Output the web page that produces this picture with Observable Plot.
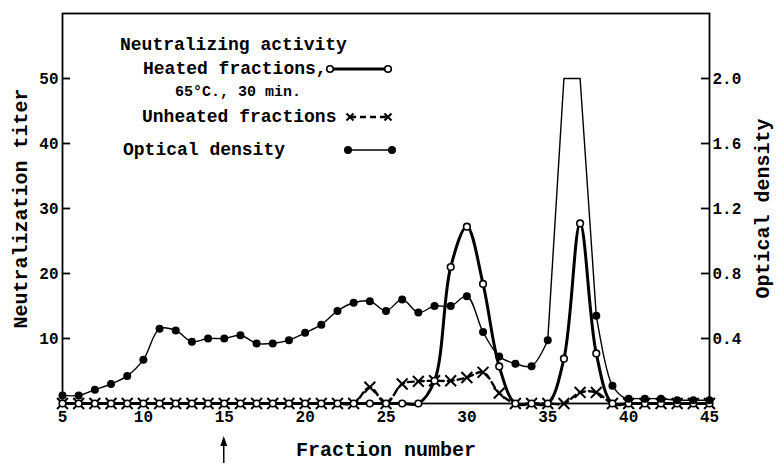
<!DOCTYPE html>
<html><head><meta charset="utf-8">
<script src="https://cdn.jsdelivr.net/npm/d3@7"></script>
<script src="https://cdn.jsdelivr.net/npm/@observablehq/plot@0.6"></script>
<style>body{margin:0;background:#fff;}</style>
</head><body><div id="chart"></div>
<script>
// ---- data ----
const fractions = d3.range(5, 46); // fraction number 5..45
const opticalDensity = [
  0.05, 0.05, 0.085, 0.12, 0.17, 0.27, 0.46, 0.45, 0.38, 0.40,   // 5-14
  0.40, 0.42, 0.37, 0.37, 0.39, 0.435, 0.485, 0.57, 0.62, 0.63,  // 15-24
  0.57, 0.64, 0.56, 0.60, 0.60, 0.66, 0.44, 0.29, 0.245, 0.23,   // 25-34
  0.39, 2.0, 2.0, 0.54, 0.11, 0.03, 0.03, 0.03, 0.02, 0.02, 0.02 // 35-45
];
const heatedTiter = [
  0, 0, 0, 0, 0, 0, 0, 0, 0, 0,          // 5-14
  0, 0, 0, 0, 0, 0, 0, 0, 0, 0,          // 15-24
  0, 0, 0, 3.5, 21.0, 27.2, 18.4, 5.7, 0, 0, // 25-34
  0, 6.9, 27.7, 7.7, 0, 0, 0, 0, 0, 0, 0 // 35-45
];
const unheatedTiter = [
  0, 0, 0, 0, 0, 0, 0, 0, 0, 0,          // 5-14
  0, 0, 0, 0, 0, 0, 0, 0, 0, 2.5,        // 15-24
  0, 3.0, 3.4, 3.5, 3.5, 4.0, 4.8, 1.6, 0, 0, // 25-34
  0, 0, 1.7, 1.7, 0, 0, 0, 0, 0, 0, 0    // 35-45
];
const fractionTicks = [5, 10, 15, 20, 25, 30, 35, 40, 45];
const titerTicks = [10, 20, 30, 40, 50];
const odTicks = [0.4, 0.8, 1.2, 1.6, 2.0];
const odToTiter = 25; // right axis: 2.0 OD sits level with titer 50
const markedFraction = 15; // arrow below the axis
const offScaleRange = [35, 38]; // OD went off scale here: drawn with straight strokes

const od = fractions.map((f, i) => ({f, v: opticalDensity[i] * odToTiter, raw: opticalDensity[i]}));
const heated = fractions.map((f, i) => ({f, v: heatedTiter[i]}));
const unheated = fractions.map((f, i) => ({f, v: unheatedTiter[i]}));
const odTickPos = odTicks.map(d => d * odToTiter);

const FONT = "'Liberation Mono', 'DejaVu Sans Mono', monospace";

const chart = Plot.plot({
  width: 776, height: 464,
  marginTop: 13, marginBottom: 61, marginLeft: 62, marginRight: 67,
  style: {fontFamily: FONT, fontSize: "16px", fontWeight: "bold", background: "#fff", color: "#000"},
  x: {domain: [5, 45]},
  y: {domain: [0, 60]},
  marks: [
    Plot.axisX(fractionTicks, {tickSize: 0, tickPadding: 7, label: null}),
    Plot.axisY(titerTicks, {anchor: "left", tickSize: 0, tickPadding: 4, label: null}),
    Plot.axisY(odTickPos, {anchor: "right", tickSize: 0, tickPadding: 3, label: null,
      tickFormat: d => (d / odToTiter).toFixed(1)}),
    Plot.ruleY(titerTicks, {x1: 5, x2: 5.5, strokeWidth: 1.8}),
    Plot.ruleY(odTickPos, {x1: 44.5, x2: 45, strokeWidth: 1.8}),
    Plot.line(od.filter(d => d.f <= offScaleRange[0]), {x: "f", y: "v", curve: "catmull-rom", strokeWidth: 1.4}),
    Plot.line(od.filter(d => d.f >= offScaleRange[0] && d.f <= offScaleRange[1]), {x: "f", y: "v", curve: "linear", strokeWidth: 1.4}),
    Plot.line(od.filter(d => d.f >= offScaleRange[1]), {x: "f", y: "v", curve: "monotone-x", strokeWidth: 1.4}),
    Plot.line(unheated, {x: "f", y: "v", curve: "catmull-rom", strokeWidth: 2.4, strokeDasharray: "6,4"}),
    Plot.line(heated, {x: "f", y: "v", curve: "catmull-rom", strokeWidth: 3}),
    Plot.frame({strokeWidth: 1.8}),
    Plot.dot(unheated, {x: "f", y: "v", symbol: "times", r: 5, strokeWidth: 2, stroke: "black"}),
    Plot.dot(heated, {x: "f", y: "v", r: 3.3, fill: "white", stroke: "black", strokeWidth: 1.6}),
    Plot.dot(od.filter(d => d.raw < 2), {x: "f", y: "v", r: 4, fill: "black"}),
    Plot.text(["Neutralization titer"], {frameAnchor: "left", textAnchor: "middle", dx: -42, rotate: -90, fontSize: 20}),
    Plot.text(["Optical density"], {frameAnchor: "right", textAnchor: "middle", dx: 53, rotate: -90, fontSize: 20}),
    Plot.text(["Fraction number"], {frameAnchor: "bottom", textAnchor: "middle", dy: 52, fontSize: 20})
  ]
});

document.getElementById("chart").append(chart);

// ---- legend & annotation ----
const svg = d3.select(chart);
const lg = svg.append("g").attr("font-family", FONT).attr("font-weight", "bold").attr("fill", "black").attr("text-anchor", "start");
const legendText = [
  {t: "Neutralizing activity", x: 120, y: 45, s: 18},
  {t: "Heated fractions,", x: 143, y: 69, s: 18},
  {t: "65°C., 30 min.", x: 175, y: 92, s: 15},
  {t: "Unheated fractions", x: 142, y: 117, s: 18},
  {t: "Optical density", x: 123, y: 150, s: 18}
];
legendText.forEach(d => lg.append("text").attr("x", d.x).attr("y", d.y)
  .attr("text-anchor", "start").attr("dominant-baseline", "middle").attr("font-size", d.s).text(d.t));
// heated symbol
lg.append("line").attr("x1", 330).attr("x2", 388).attr("y1", 69).attr("y2", 69).attr("stroke", "black").attr("stroke-width", 3);
[330, 388].forEach(x => lg.append("circle").attr("cx", x).attr("cy", 69).attr("r", 3.3).attr("fill", "white").attr("stroke", "black").attr("stroke-width", 1.6));
// unheated symbol
lg.append("line").attr("x1", 350).attr("x2", 388).attr("y1", 117).attr("y2", 117).attr("stroke", "black").attr("stroke-width", 2.4).attr("stroke-dasharray", "6,4");
[350, 388].forEach(x => lg.append("path").attr("d", `M${x-3.5},${117-3.5}L${x+3.5},${117+3.5}M${x-3.5},${117+3.5}L${x+3.5},${117-3.5}`).attr("stroke", "black").attr("stroke-width", 2));
// optical density symbol
lg.append("line").attr("x1", 348).attr("x2", 392).attr("y1", 150).attr("y2", 150).attr("stroke", "black").attr("stroke-width", 1.4);
[348, 392].forEach(x => lg.append("circle").attr("cx", x).attr("cy", 150).attr("r", 4).attr("fill", "black"));

// arrow under fraction 15
const ax = chart.scale("x").apply(markedFraction);
svg.append("line").attr("x1", ax).attr("x2", ax).attr("y1", 463).attr("y2", 442).attr("stroke", "black").attr("stroke-width", 1.5);
svg.append("path").attr("d", `M${ax-3.5},${446}L${ax},${436}L${ax+3.5},${446}Z`).attr("fill", "black");
</script>
</body></html>
